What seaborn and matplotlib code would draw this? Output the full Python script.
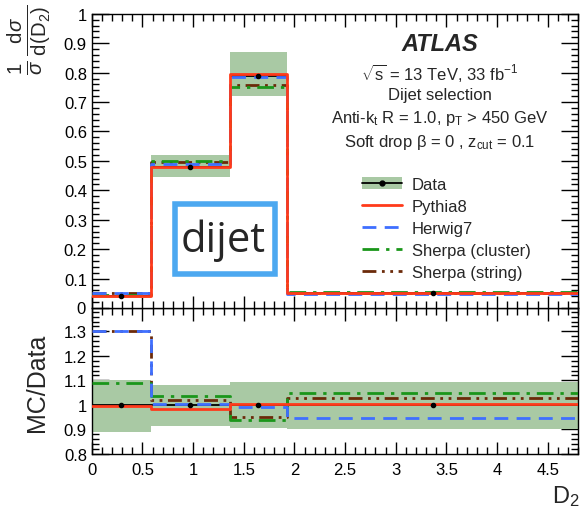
import numpy as np
import pandas as pd
import matplotlib
matplotlib.use("Agg")
import matplotlib.pyplot as plt
import seaborn as sns
from matplotlib.patches import Patch, Rectangle
from matplotlib.lines import Line2D
from matplotlib.ticker import MultipleLocator

sns.set_theme(style="ticks")
plt.rcParams['font.family'] = ['Liberation Sans', 'DejaVu Sans']
plt.rcParams['mathtext.fontset'] = 'custom'
plt.rcParams['mathtext.rm'] = 'Liberation Sans'
plt.rcParams['mathtext.it'] = 'Liberation Sans:italic'
plt.rcParams['mathtext.bf'] = 'Liberation Sans:bold'

# ---- data ----
bin_edges = [0.0, 0.58, 1.36, 1.93, 4.8]
data_vals = [0.04, 0.48, 0.79, 0.05]
data_lo = [0.035, 0.445, 0.72, 0.045]
data_hi = [0.045, 0.52, 0.87, 0.055]
pythia8 = [0.04, 0.478, 0.795, 0.05]
herwig7 = [0.052, 0.49, 0.785, 0.048]
sherpa_cluster = [0.044, 0.50, 0.752, 0.053]
sherpa_string = [0.052, 0.497, 0.758, 0.052]

ratio_lo = [0.89, 0.915, 0.905, 0.90]
ratio_hi = [1.10, 1.08, 1.095, 1.094]
r_pythia8 = [0.997, 0.985, 1.005, 1.005]
r_herwig7 = [1.30, 1.005, 0.99, 0.947]
r_sherpa_cluster = [1.09, 1.035, 0.94, 1.048]
r_sherpa_string = [1.30, 1.02, 0.952, 1.027]

top_yticks = [0, 0.1, 0.2, 0.3, 0.4, 0.5, 0.6, 0.7, 0.8, 0.9, 1.0]
top_yticklabels = ['0', '0.1', '0.2', '0.3', '0.4', '0.5', '0.6', '0.7', '0.8', '0.9', '1']
ratio_yticks = [0.8, 0.9, 1.0, 1.1, 1.2, 1.3]
ratio_yticklabels = ['0.8', '0.9', '1', '1.1', '1.2', '1.3']
xticks = [0, 0.5, 1, 1.5, 2, 2.5, 3, 3.5, 4, 4.5]
xticklabels = ['0', '0.5', '1', '1.5', '2', '2.5', '3', '3.5', '4', '4.5']

band_color = '#a9c9a4'
series = [
    ("Sherpa (string)", sherpa_string, r_sherpa_string, '#6b2a0a', (0, (5, 2, 1, 2, 1, 2))),
    ("Sherpa (cluster)", sherpa_cluster, r_sherpa_cluster, '#1a961a', (0, (6, 2.5, 1.2, 2.5))),
    ("Herwig7", herwig7, r_herwig7, '#3f6fff', (0, (5, 3))),
    ("Pythia8", pythia8, r_pythia8, '#ff3a1a', '-'),
]

edges = np.array(bin_edges)
centers = 0.5 * (edges[:-1] + edges[1:])

fig = plt.figure(figsize=(5.81, 5.10), dpi=100)
ax2 = fig.add_axes([0.158, 0.108, 0.837, 0.286])
ax1 = fig.add_axes([0.158, 0.394, 0.837, 0.577])
ax2.set_facecolor('none')
ax1.set_zorder(3)


def step_df(vals):
    return pd.DataFrame({"x": edges, "y": list(vals) + [vals[-1]]})


for ax, lo, hi, dv, key in [(ax1, data_lo, data_hi, data_vals, 0), (ax2, ratio_lo, ratio_hi, [1.0] * 4, 1)]:
    for i in range(len(centers)):
        ax.fill_between([edges[i], edges[i + 1]], [lo[i]] * 2, [hi[i]] * 2,
                        color=band_color, lw=0, zorder=1)
    ax.hlines(dv, edges[:-1], edges[1:], color='black', lw=1.3, zorder=2)
    for name, v, rv, col, ls in series:
        vals = rv if key else v
        d = step_df(vals)
        sns.lineplot(data=d, x="x", y="y", ax=ax, color=col, lw=2.0,
                     linestyle=ls, drawstyle='steps-post', zorder=3, legend=False)
    ax.errorbar(centers, dv, yerr=[0.003 if key == 0 else 0.006] * 4, fmt='o',
                color='black', ms=3, lw=1, zorder=5)

for ax in (ax1, ax2):
    ax.set_xlim(0, 4.8)
    ax.xaxis.set_major_locator(MultipleLocator(0.5))
    ax.xaxis.set_minor_locator(MultipleLocator(0.1))
    ax.yaxis.set_major_locator(MultipleLocator(0.1))
    ax.yaxis.set_minor_locator(MultipleLocator(0.02))
    ax.tick_params(which='both', direction='in', top=True, right=True,
                   labelsize=12, colors='black', width=1)
    ax.tick_params(which='major', length=9)
    ax.tick_params(which='minor', length=5)
    ax.tick_params(axis='x', pad=6)
    ax.set_xlabel('')
    ax.set_ylabel('')
    for s in ax.spines.values():
        s.set_linewidth(1.0)
        s.set_color('black')

ax1.set_ylim(0, 1.0)
ax1.tick_params(axis='y', which='major', length=12)
ax1.tick_params(labelbottom=False)
ax1.set_yticks(top_yticks)
# the bottom "0" of the upper panel sits on the panel boundary; it is drawn as a figure text below
ax1.set_yticklabels([''] + top_yticklabels[1:])
ax2.set_ylim(0.8, 1.395)
ax2.tick_params(axis='y', which='major', length=12)
ax2.set_yticks(ratio_yticks)
ax2.set_yticklabels(ratio_yticklabels)
ax2.set_xticks(xticks)
ax2.set_xticklabels(xticklabels)

# the boundary "0" label of the upper panel
fig.text(0.158 - 6.5 / 581, 0.394, top_yticklabels[0], ha='right', va='center',
         fontsize=12, color='black', zorder=10)

# axis labels
fig.text(0.05, 0.99, r'$\frac{1}{\sigma}\,\frac{\mathrm{d}\sigma}{\mathrm{d(D_2)}}$',
         rotation=90, ha='center', va='top', fontsize=21)
fig.text(0.064, 0.25, 'MC/Data', rotation=90, ha='center', va='center', fontsize=18)
fig.text(0.998, 0.002, r'$\mathrm{D_2}$', ha='right', va='bottom', fontsize=17)

# ATLAS text block
tx = 0.757
fig.text(tx, 0.912, 'ATLAS', ha='center', va='center', fontsize=17,
         fontweight='bold', fontstyle='italic')
fig.text(tx, 0.857, r'$\sqrt{\mathrm{s}}$ = 13 TeV, 33 fb$^{-1}$', ha='center', va='center', fontsize=12)
fig.text(tx, 0.813, 'Dijet selection', ha='center', va='center', fontsize=12)
fig.text(tx, 0.767, r'Anti-k$_\mathrm{t}$ R = 1.0, p$_\mathrm{T}$ > 450 GeV', ha='center', va='center', fontsize=12)
fig.text(tx, 0.721, r'Soft drop β = 0 , z$_\mathrm{cut}$ = 0.1', ha='center', va='center', fontsize=12)

# legend
handles = [
    (Patch(facecolor=band_color, edgecolor='none'),
     Line2D([], [], color='black', marker='o', ms=3.5, lw=1.3)),
]
labels = ["Data"]
for name in ["Pythia8", "Herwig7", "Sherpa (cluster)", "Sherpa (string)"]:
    for n, v, rv, col, ls in series:
        if n == name:
            handles.append(Line2D([], [], color=col, lw=2.0, linestyle=ls))
            labels.append(n)
fig.legend(handles, labels, loc='upper left', bbox_to_anchor=(362 / 581, 1 - 178 / 510),
           frameon=False, fontsize=12, handlelength=2.4, handletextpad=0.6,
           labelspacing=0.42, borderpad=0, borderaxespad=0)

# dijet label box
ax1.add_artist(Rectangle((175 / 581, 1 - 275 / 510), 100 / 581, 70 / 510,
                         transform=fig.transFigure, fill=False,
                         edgecolor='#4ca8f0', lw=4, zorder=6))
fig.text(223 / 581, 1 - 241 / 510, 'dijet', ha='center', va='center', fontsize=30,
         family=['Open Sans', 'DejaVu Sans'], zorder=7)

fig.savefig('out.png', dpi=100)
